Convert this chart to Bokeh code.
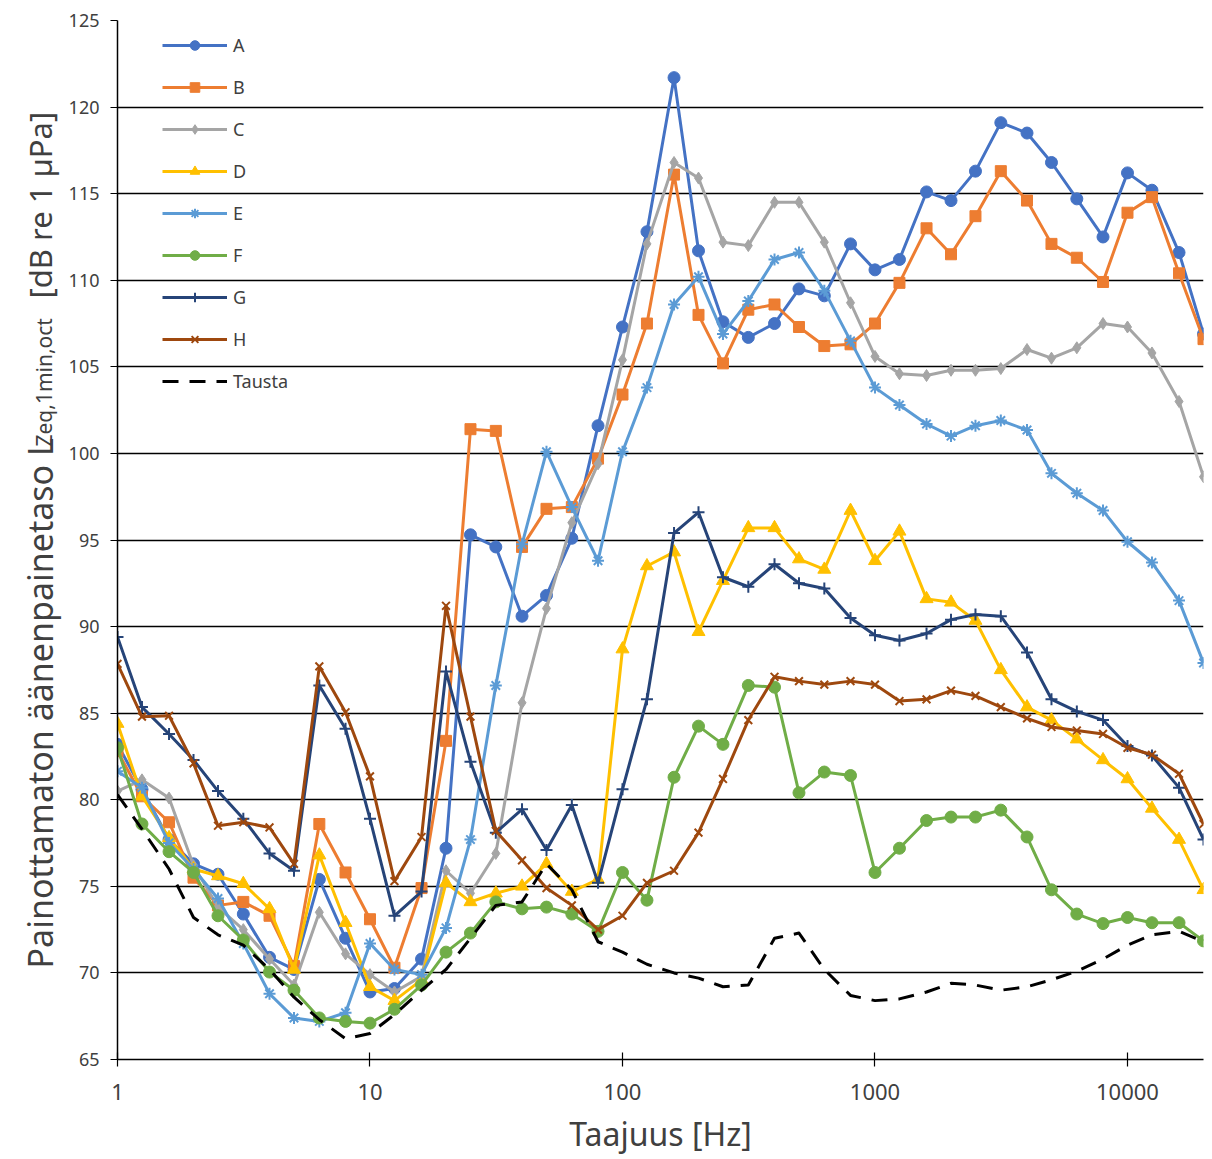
import math
from bokeh.plotting import figure
from bokeh.layouts import row
from bokeh.models import (FixedTicker, PrintfTickFormatter, Legend, LegendItem,
                          Range1d)
from bokeh.embed import file_html
from bokeh.resources import INLINE
from bokeh.core.properties import value

# ---------------- data ----------------
freqs = [1, 1.25, 1.6, 2, 2.5, 3.15, 4, 5, 6.3, 8, 10, 12.5, 16, 20, 25, 31.5, 40,
         50, 63, 80, 100, 125, 160, 200, 250, 315, 400, 500, 630, 800, 1000, 1250,
         1600, 2000, 2500, 3150, 4000, 5000, 6300, 8000, 10000, 12500, 16000, 20000]

A = [83.2, 80.6, 77.7, 76.3, 75.7, 73.4, 70.9, 70.2, 75.4, 72.0, 68.9,
     69.1, 70.8, 77.2, 95.3, 94.6, 90.6, 91.8, 95.1, 101.6,
     107.3, 112.8, 121.7, 111.7, 107.6, 106.7, 107.5, 109.5, 109.1, 112.1,
     110.6, 111.2, 115.1, 114.6, 116.3, 119.1, 118.5, 116.8, 114.7, 112.5,
     116.2, 115.2, 111.6, 106.9]
B = [82.8, 80.2, 78.7, 75.5, 73.9, 74.1, 73.3, 70.4, 78.6, 75.8, 73.1,
     70.3, 74.9, 83.4, 101.4, 101.3, 94.6, 96.8, 96.9, 99.7,
     103.4, 107.5, 116.1, 108.0, 105.2, 108.3, 108.6, 107.3, 106.2, 106.3,
     107.5, 109.85, 113.0, 111.5, 113.7, 116.3, 114.6, 112.1, 111.3, 109.9,
     113.9, 114.8, 110.4, 106.6]
C = [80.5, 81.15, 80.1, 76.2, 73.8, 72.5, 70.8, 69.3, 73.5, 71.1, 69.9,
     68.9, 69.8, 75.9, 74.6, 76.9, 85.6, 91.05, 96.0, 99.4,
     105.4, 112.1, 116.8, 115.9, 112.2, 112.0, 114.5, 114.5, 112.2, 108.7,
     105.6, 104.6, 104.5, 104.8, 104.8, 104.9, 106.0, 105.5, 106.1, 107.5,
     107.3, 105.8, 103.0, 98.65]
D = [84.4, 80.2, 77.8, 76.0, 75.6, 75.15, 73.7, 70.2, 76.8, 72.9, 69.2,
     68.4, 69.6, 75.2, 74.1, 74.6, 75.0, 76.3, 74.7, 75.4,
     88.7, 93.5, 94.3, 89.7, 92.65, 95.7, 95.7, 93.9, 93.3, 96.7,
     93.8, 95.5, 91.6, 91.4, 90.35, 87.5, 85.35, 84.6, 83.5, 82.3,
     81.2, 79.5, 77.7, 74.8]
E = [81.65, 80.7, 77.5, 76.0, 74.3, 71.7, 68.8, 67.4, 67.2, 67.7, 71.7,
     70.2, 69.9, 72.6, 77.7, 86.6, 94.75, 100.1, 96.9, 93.8,
     100.1, 103.8, 108.6, 110.2, 106.9, 108.8, 111.2, 111.6, 109.4, 106.5,
     103.8, 102.8, 101.7, 101.0, 101.6, 101.9, 101.35, 98.85, 97.7, 96.7,
     94.9, 93.7, 91.5, 87.9]
F = [83.0, 78.6, 77.0, 75.8, 73.3, 71.9, 70.05, 69.0, 67.4, 67.2, 67.1,
     67.9, 69.3, 71.2, 72.3, 74.1, 73.7, 73.8, 73.4, 72.4,
     75.8, 74.2, 81.3, 84.25, 83.2, 86.6, 86.5, 80.4, 81.6, 81.4,
     75.8, 77.2, 78.8, 79.0, 79.0, 79.4, 77.85, 74.8, 73.4, 72.85,
     73.2, 72.9, 72.9, 71.85]
G = [89.4, 85.35, 83.8, 82.3, 80.5, 78.9, 76.9, 75.9, 86.6, 84.1, 78.9,
     73.3, 74.7, 87.4, 82.2, 78.1, 79.45, 77.1, 79.7, 75.2,
     80.6, 85.8, 95.4, 96.6, 92.85, 92.3, 93.6, 92.5, 92.2, 90.5,
     89.5, 89.2, 89.6, 90.4, 90.7, 90.6, 88.5, 85.8, 85.1, 84.6,
     83.1, 82.55, 80.7, 77.7]
H = [87.85, 84.8, 84.85, 82.1, 78.5, 78.7, 78.4, 76.3, 87.7, 85.05, 81.35,
     75.3, 77.85, 91.2, 84.8, 78.2, 76.5, 74.9, 73.9, 72.5,
     73.3, 75.2, 75.9, 78.1, 81.2, 84.6, 87.1, 86.85, 86.65, 86.85,
     86.65, 85.7, 85.8, 86.3, 86.0, 85.35, 84.7, 84.2, 84.0, 83.8,
     83.0, 82.6, 81.5, 78.6]
Tausta = [80.3, 78.3, 76.0, 73.2, 72.2, 71.6, 70.2, 68.6, 67.3, 66.2, 66.5,
          67.6, 69.0, 70.2, 72.0, 73.9, 74.1, 76.3, 74.8, 71.8,
          71.2, 70.5, 70.0, 69.7, 69.2, 69.3, 72.0, 72.3, 70.2, 68.7,
          68.4, 68.5, 68.9, 69.4, 69.3, 69.0, 69.2, 69.6, 70.1, 70.8,
          71.6, 72.2, 72.4, 71.8]

series_names = ["A", "B", "C", "D", "E", "F", "G", "H"]
series_values = [A, B, C, D, E, F, G, H]
series_colors = ["#4472C4", "#ED7D31", "#A5A5A5", "#FFC000",
                 "#5B9BD5", "#70AD47", "#264478", "#9E480E"]
series_markers = ["circle", "square", "diamond", "triangle",
                  "asterisk", "circle", "cross", "x"]
marker_sizes = [12, 11, 12, 13, 12, 12, 12, 11]

x_ticks = [1, 10, 100, 1000, 10000]
y_ticks = list(range(65, 126, 5))

y_title_main = "Painottamaton äänenpainetaso L"
y_title_sub = "Zeq,1min,oct"
y_title_unit = "[dB re 1 µPa]"

FONT = "Noto Sans"
TXT = "#404040"
TOTAL_H = 1159
LEFT_W = 65

# ---------------- left strip holding the rotated y title ----------------
# its frame is aligned with the main frame (page y 20..1059)
left = figure(width=LEFT_W, height=TOTAL_H, x_range=Range1d(0, LEFT_W),
              y_range=Range1d(1059, 20), output_backend="svg",
              toolbar_location=None, min_border=0)
left.axis.visible = False
left.grid.visible = False
left.outline_line_color = None
tstyle = dict(angle=math.pi / 2, text_font=value(FONT), text_color=TXT,
              text_align="left", text_baseline="alphabetic")
left.text(x=[39], y=[968], text=[y_title_main], text_font_size="34px", **tstyle)
left.text(x=[43], y=[446], text=[y_title_sub], text_font_size="21px", **tstyle)
left.text(x=[39], y=[298], text=[y_title_unit], text_font_size="31px", **tstyle)

# ---------------- main figure ----------------
p = figure(width=1212 - LEFT_W, height=TOTAL_H, x_axis_type="log",
           x_range=Range1d(1, 20000), y_range=Range1d(65, 125),
           output_backend="svg", toolbar_location=None,
           min_border_left=117 - LEFT_W, min_border_right=9,
           min_border_top=20, min_border_bottom=100)
p.outline_line_color = None

p.xaxis.ticker = FixedTicker(ticks=x_ticks, minor_ticks=[])
p.xaxis.formatter = PrintfTickFormatter(format="%d")
p.xaxis.major_tick_in = 7
p.xaxis.major_tick_out = 7
p.xaxis.minor_tick_line_color = None
p.xaxis.axis_line_color = "black"
p.xaxis.axis_line_width = 1.5
p.xaxis.major_tick_line_color = "black"
p.xaxis.major_tick_line_width = 1.2
p.xaxis.major_label_text_font = FONT
p.xaxis.major_label_text_font_size = "22px"
p.xaxis.major_label_text_color = TXT
p.xaxis.major_label_standoff = 17
p.xaxis.axis_label = "Taajuus [Hz]"
p.xaxis.axis_label_text_font = FONT
p.xaxis.axis_label_text_font_size = "32px"
p.xaxis.axis_label_text_font_style = "normal"
p.xaxis.axis_label_text_color = TXT
p.xaxis.axis_label_standoff = 9

p.yaxis.ticker = FixedTicker(ticks=y_ticks, minor_ticks=[])
p.yaxis.major_tick_in = 0
p.yaxis.major_tick_out = 7
p.yaxis.minor_tick_line_color = None
p.yaxis.axis_line_color = "black"
p.yaxis.axis_line_width = 1.5
p.yaxis.major_tick_line_color = "black"
p.yaxis.major_tick_line_width = 1.2
p.yaxis.major_label_text_font = FONT
p.yaxis.major_label_text_font_size = "18px"
p.yaxis.major_label_text_color = TXT
p.yaxis.major_label_standoff = 11

p.xgrid.grid_line_color = None
p.ygrid.grid_line_color = "black"
p.ygrid.grid_line_width = 1.5

items = []
for name, vals, col, mk, ms in zip(series_names, series_values, series_colors,
                                   series_markers, marker_sizes):
    lr = p.line(freqs, vals, line_color=col, line_width=3, line_join="round")
    lw = 2 if mk in ("asterisk", "cross", "x") else 1
    sr = p.scatter(freqs, vals, marker=mk, size=ms, fill_color=col,
                   line_color=col, line_width=lw)
    items.append(LegendItem(label=name, renderers=[lr, sr]))

tr = p.line(freqs, Tausta, line_color="black", line_width=3,
            line_dash="16 11", line_join="round")
items.append(LegendItem(label="Tausta", renderers=[tr]))

legend = Legend(items=items, location=(45, 666), padding=0, margin=0,
                spacing=18, glyph_height=24, glyph_width=65, label_height=24,
                label_standoff=6, label_text_font=FONT,
                label_text_font_size="18px", label_text_color=TXT,
                background_fill_alpha=0, border_line_alpha=0)
p.add_layout(legend)

layout = row(left, p, spacing=0)
open("out.html", "w").write(file_html(layout, INLINE))
